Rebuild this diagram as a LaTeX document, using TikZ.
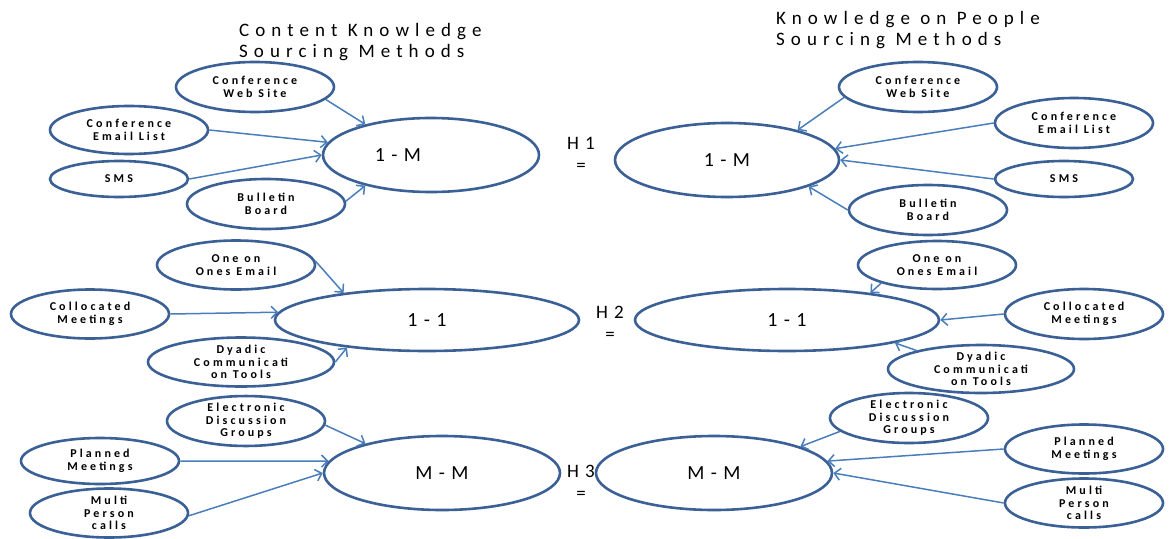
\documentclass[tikz,border=0pt]{standalone}
\usepackage{fontspec}
\setmainfont{Carlito}
\newfontfamily\spfont[LetterSpace=26]{Carlito}
\newfontfamily\bigsp[LetterSpace=32]{Carlito}
\usetikzlibrary{shapes.geometric,arrows.meta}
\definecolor{edgeblue}{HTML}{3A6096}
\definecolor{arrblue}{HTML}{4A7EBB}
\begin{document}
\begin{tikzpicture}[x=1pt,y=-1pt,
  src/.style={ellipse, draw=edgeblue, line width=2.6pt, inner sep=0pt, align=center,
    minimum width=158pt, minimum height=49pt,
    font=\spfont\bfseries\fontsize{12}{12.5}\selectfont},
  hub/.style={ellipse, draw=edgeblue, line width=2.6pt, inner sep=0pt,
    font=\bigsp\fontsize{20}{22}\selectfont},
  link/.style={draw=arrblue, line width=1.5pt, -{Straight Barb[length=6pt,width=12pt]}},
  ttl/.style={anchor=base west, align=left, inner sep=0pt, font=\bigsp\fontsize{19}{20.5}\selectfont},
  hyp/.style={align=center, inner sep=0pt, font=\bigsp\fontsize{19}{22}\selectfont}]
\useasboundingbox (0,0) rectangle (1172,538);

% titles
\node[ttl] (t1) at (239,57) {Content Knowledge\\Sourcing Methods};
\node[ttl] (t2) at (776,45) {Knowledge on People\\Sourcing Methods};

% hypothesis labels
\node[hyp] (h1) at (581,154) {H1\\=};
\node[hyp] (h2) at (610,323) {H2\\=};
\node[hyp] (h3) at (581,482) {H3\\=};

% ---------- left block 1 ----------
\node[hub, minimum width=216pt, minimum height=74pt] (l1m) at (431,155) {\makebox[0pt][c]{1-M\kern66pt}};
\node[src, minimum height=50pt] (lcws) at (255,87) {Conference\\Web Site};
\node[src, minimum height=48pt] (lcel) at (129,130) {Conference\\Email List};
\node[src, minimum width=138pt, minimum height=36pt] (lsms) at (119,179) {SMS};
\node[src, minimum height=50pt] (lbb) at (266,204) {Bulletin\\Board};
\draw[link] (lcws.350) -- (l1m.155);
\draw[link] (lcel.0) -- (l1m.173);
\draw[link] (lsms.0) -- (l1m.180);
\draw[link] (lbb.2) -- (l1m.205);

% ---------- right block 1 ----------
\node[hub, minimum width=224pt, minimum height=74pt] (r1m) at (727,160) {1-M};
\node[src, minimum height=50pt] (rcws) at (918,87) {Conference\\Web Site};
\node[src, minimum height=50pt] (rcel) at (1074,123) {Conference\\Email List};
\node[src, minimum width=138pt, minimum height=36pt] (rsms) at (1064,179) {SMS};
\node[src, minimum height=50pt] (rbb) at (928,210) {Bulletin\\Board};
\draw[link] (rcws.188) -- (r1m.23);
\draw[link] (rcel.180) -- (r1m.6);
\draw[link] (rsms.180) -- (r1m.0);
\draw[link] (rbb.180) -- (r1m.342);

% ---------- left block 2 ----------
\node[hub, minimum width=304pt, minimum height=62pt] (l11) at (427,320) {1-1};
\node[src] (lone) at (236,265) {One on\\Ones Email};
\node[src] (lcoll) at (90,314) {Collocated\\Meetings};
\node[src, minimum width=186pt] (ldy) at (241,362) {Dyadic\\Communicati\\on Tools};
\draw[link] (lone.3) -- (l11.162);
\draw[link] (lcoll.0) -- (l11.177);
\draw[link] (ldy.0) -- (l11.199);

% ---------- right block 2 ----------
\node[hub, minimum width=304pt, minimum height=62pt] (r11) at (787,320) {1-1};
\node[src, minimum height=48pt] (rone) at (937,265) {One on\\Ones Email};
\node[src, minimum height=50pt] (rcoll) at (1084,314) {Collocated\\Meetings};
\node[src, minimum width=186pt, minimum height=48pt] (rdy) at (981,369) {Dyadic\\Communicati\\on Tools};
\draw[link] (rone.198) -- (r11.18);
\draw[link] (rcoll.180) -- (r11.0);
\draw[link] (rdy.164) -- (r11.348);

% ---------- left block 3 ----------
\node[hub, minimum width=236pt, minimum height=74pt] (lmm) at (442,473) {M-M};
\node[src, minimum height=44pt] (ledg) at (246,421) {Electronic\\Discussion\\Groups};
\node[src, minimum height=46pt] (lpm) at (100,461) {Planned\\Meetings};
\node[src] (lmpc) at (109,513) {Multi\\Person\\calls};
\draw[link] (ledg.357) -- (lmm.159);
\draw[link] (lpm.0) -- (lmm.174);
\draw[link] (lmpc.358) -- (lmm.180);

% ---------- right block 3 ----------
\node[hub, minimum width=236pt, minimum height=74pt] (rmm) at (714,473) {M-M};
\node[src, minimum height=50pt] (redg) at (909,418) {Electronic\\Discussion\\Groups};
\node[src] (rpm) at (1084,449) {Planned\\Meetings};
\node[src] (rmpc) at (1084,503) {Multi\\Person\\calls};
\draw[link] (redg.191) -- (rmm.17);
\draw[link] (rpm.180) -- (rmm.6);
\draw[link] (rmpc.180) -- (rmm.0);
\end{tikzpicture}
\end{document}
